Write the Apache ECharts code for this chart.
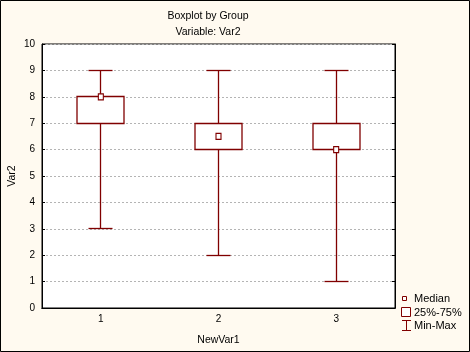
<!DOCTYPE html>
<html>
<head>
<meta charset="utf-8">
<script src="https://cdn.jsdelivr.net/npm/echarts@6/dist/echarts.min.js"></script>
<style>html,body{margin:0;padding:0;background:#fffaf0;}#c{width:470px;height:352px;}</style>
</head>
<body>
<div id="c"></div>
<script>
const categories = ['1', '2', '3'];
const mins = [3, 2, 1];
const q1s = [7, 6, 6];
const medians = [8, 6.5, 6];
const q3s = [8, 7, 7];
const maxs = [9, 9, 9];
const yTicks = [0, 1, 2, 3, 4, 5, 6, 7, 8, 9, 10];

const DARK = '#800000';
const FONT = 'Liberation Sans, Arial, sans-serif';

const chart = echarts.init(document.getElementById('c'), null, {renderer: 'canvas'});
const boxData = categories.map((c, i) => [i, mins[i], q1s[i], q3s[i], maxs[i]]);
const medData = categories.map((c, i) => [i, medians[i]]);

function crisp(v) { return Math.round(v - 0.5) + 0.5; }

chart.setOption({
  backgroundColor: '#fffaf0',
  animation: false,
  title: [
    {text: 'Boxplot by Group', left: 203, top: 6, textAlign: 'center',
     textStyle: {fontFamily: FONT, fontSize: 10.5, fontWeight: 'normal', color: '#000'}},
    {text: 'Variable: Var2', left: 203, top: 22, textAlign: 'center',
     textStyle: {fontFamily: FONT, fontSize: 10.5, fontWeight: 'normal', color: '#000'}}
  ],
  grid: {left: 42, top: 44, width: 353, height: 264, containLabel: false, outerBoundsMode: 'none',
         show: true, backgroundColor: '#fff', borderColor: '#000', borderWidth: 1},
  xAxis: [
    {type: 'category', data: categories, position: 'bottom', boundaryGap: true,
     name: 'NewVar1', nameLocation: 'middle', nameGap: 27, nameMoveOverlap: false,
     nameTextStyle: {fontFamily: FONT, fontSize: 10.5, color: '#000'},
     axisLine: {lineStyle: {color: '#000'}},
     axisTick: {inside: true, length: 3, alignWithLabel: true, lineStyle: {color: '#000'}},
     axisLabel: {fontFamily: FONT, fontSize: 10, color: '#000', margin: 6},
     splitLine: {show: false}},
    {type: 'category', data: categories, position: 'top', boundaryGap: true,
     axisLine: {lineStyle: {color: '#000'}},
     axisTick: {inside: true, length: 3, alignWithLabel: true, lineStyle: {color: '#000'}},
     axisLabel: {show: false}, splitLine: {show: false}}
  ],
  yAxis: [
    {type: 'value', min: yTicks[0], max: yTicks[yTicks.length - 1], interval: 1, position: 'left',
     name: 'Var2', nameLocation: 'middle', nameGap: 24, nameMoveOverlap: false,
     nameTextStyle: {fontFamily: FONT, fontSize: 10.5, color: '#000'},
     axisLine: {show: true, lineStyle: {color: '#000'}},
     axisTick: {show: true, inside: true, length: 3, lineStyle: {color: '#000'}},
     axisLabel: {fontFamily: FONT, fontSize: 10, color: '#000', margin: 7},
     splitLine: {show: true, lineStyle: {color: '#b4b4b4', type: [2, 2], width: 1}}},
    {type: 'value', min: yTicks[0], max: yTicks[yTicks.length - 1], interval: 1, position: 'right',
     axisLine: {show: true, lineStyle: {color: '#000'}},
     axisTick: {show: true, inside: true, length: 3, lineStyle: {color: '#000'}},
     axisLabel: {show: false}, splitLine: {show: false}}
  ],
  series: [
    {
      type: 'custom',
      data: boxData,
      encode: {x: 0, y: [1, 2, 3, 4]},
      z: 3,
      renderItem: function (params, api) {
        const idx = api.value(0);
        const pMin = api.coord([idx, api.value(1)]);
        const pQ1 = api.coord([idx, api.value(2)]);
        const pQ3 = api.coord([idx, api.value(3)]);
        const pMax = api.coord([idx, api.value(4)]);
        const band = api.size([1, 0])[0];
        const boxW = Math.round(band * 0.4);
        const capW = Math.round(band * 0.2);
        const cx = crisp(pMin[0]);
        const yMin = crisp(pMin[1]), yQ1 = crisp(pQ1[1]), yQ3 = crisp(pQ3[1]), yMax = crisp(pMax[1]);
        const st = {stroke: DARK, lineWidth: 1.3, fill: null};
        return {
          type: 'group',
          children: [
            {type: 'line', shape: {x1: cx, y1: yMax, x2: cx, y2: yQ3}, style: st},
            {type: 'line', shape: {x1: cx, y1: yQ1, x2: cx, y2: yMin}, style: st},
            {type: 'line', shape: {x1: cx - capW / 2, y1: yMax, x2: cx + capW / 2, y2: yMax}, style: st},
            {type: 'line', shape: {x1: cx - capW / 2, y1: yMin, x2: cx + capW / 2, y2: yMin}, style: st},
            {type: 'rect', shape: {x: cx - boxW / 2, y: yQ3, width: boxW, height: yQ1 - yQ3},
             style: {stroke: DARK, lineWidth: 1.3, fill: '#fff'}}
          ]
        };
      }
    },
    {
      type: 'scatter',
      data: medData,
      z: 5,
      symbol: 'rect',
      symbolSize: [5, 6],
      itemStyle: {color: '#fff', borderColor: DARK, borderWidth: 1.2, opacity: 1}
    }
  ],
  graphic: [
    {type: 'rect', shape: {x: 0.5, y: 0.5, width: 469, height: 351}, style: {fill: null, stroke: '#000', lineWidth: 1}, z: 100},
    {type: 'rect', shape: {x: 402.5, y: 296.5, width: 4, height: 4}, style: {fill: '#fff', stroke: DARK, lineWidth: 1}},
    {type: 'text', x: 414, y: 298.5, style: {text: 'Median', fontFamily: FONT, fontSize: 11, fill: '#000', verticalAlign: 'middle'}},
    {type: 'rect', shape: {x: 401.5, y: 307.5, width: 9, height: 9}, style: {fill: '#fff', stroke: DARK, lineWidth: 1}},
    {type: 'text', x: 414, y: 312.5, style: {text: '25%-75%', fontFamily: FONT, fontSize: 11, fill: '#000', verticalAlign: 'middle'}},
    {type: 'line', shape: {x1: 406.5, y1: 320, x2: 406.5, y2: 331}, style: {stroke: DARK, lineWidth: 1}},
    {type: 'line', shape: {x1: 402, y1: 320.5, x2: 411, y2: 320.5}, style: {stroke: DARK, lineWidth: 1}},
    {type: 'line', shape: {x1: 402, y1: 330.5, x2: 411, y2: 330.5}, style: {stroke: DARK, lineWidth: 1}},
    {type: 'text', x: 414, y: 326, style: {text: 'Min-Max', fontFamily: FONT, fontSize: 11, fill: '#000', verticalAlign: 'middle'}}
  ]
});
</script>
</body>
</html>
